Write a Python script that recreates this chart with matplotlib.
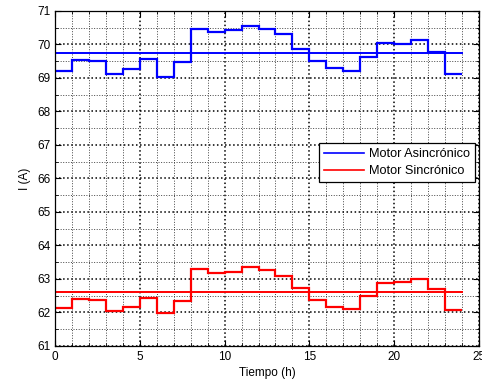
import numpy as np
import matplotlib.pyplot as plt
from matplotlib.ticker import MultipleLocator

plt.rcParams['font.family'] = ['Liberation Sans', 'DejaVu Sans']

# Hourly current readings (A)
hours = np.arange(0, 25)
asincronico = [69.22, 69.54, 69.50, 69.13, 69.27, 69.56, 69.03, 69.48,
               70.46, 70.38, 70.43, 70.55, 70.46, 70.30, 69.87, 69.51,
               69.29, 69.21, 69.62, 70.05, 70.02, 70.13, 69.79, 69.13]
sincronico = [62.14, 62.41, 62.37, 62.05, 62.17, 62.44, 61.98, 62.34,
              63.29, 63.17, 63.22, 63.35, 63.26, 63.09, 62.72, 62.37,
              62.16, 62.10, 62.50, 62.87, 62.91, 63.01, 62.69, 62.07]
ref_asincronico = 69.74
ref_sincronico = 62.61

fig = plt.figure(figsize=(4.82, 3.79), dpi=100)
ax = fig.add_axes([0.1141, 0.0871, 0.8797, 0.8839])

# Step curves
h1 = ax.stairs(asincronico, hours, baseline=None, color='blue', lw=1.6,
               label='Motor Asincrónico')
h2 = ax.stairs(sincronico, hours, baseline=None, color='red', lw=1.6,
               label='Motor Sincrónico')

# Reference levels
ax.plot([hours[0], hours[-1]], [ref_asincronico] * 2, color='blue', lw=1.4)
ax.plot([hours[0], hours[-1]], [ref_sincronico] * 2, color='red', lw=1.4)

ax.set_xlim(0, 25)
ax.set_ylim(61, 71)
ax.xaxis.set_major_locator(MultipleLocator(5))
ax.xaxis.set_minor_locator(MultipleLocator(1))
ax.yaxis.set_major_locator(MultipleLocator(1))
ax.yaxis.set_minor_locator(MultipleLocator(0.5))

# Grid
ax.grid(which='major', color='black', linestyle=':', lw=1.1)
ax.grid(which='minor', color='#444444', linestyle=':', lw=0.7)
ax.set_axisbelow(True)

ax.tick_params(which='both', direction='in', top=True, right=True, labelsize=8.5)
ax.tick_params(which='major', length=4)
ax.tick_params(which='minor', length=2)
for s in ax.spines.values():
    s.set_linewidth(0.9)

ax.set_xlabel('Tiempo (h)', fontsize=8.5, labelpad=3)
ax.set_ylabel('I (A)', fontsize=8.5, labelpad=4)

leg = ax.legend(handles=[h1, h2], loc='upper right', bbox_to_anchor=(0.9906, 0.606),
                fontsize=9.2, fancybox=False, framealpha=1, edgecolor='black',
                borderpad=0.4, labelspacing=0.4, handlelength=3.1,
                handletextpad=0.4, borderaxespad=0)
leg.get_frame().set_linewidth(0.9)
for line in leg.get_lines():
    line.set_linewidth(1.2)

fig.savefig('out.png', dpi=100)
